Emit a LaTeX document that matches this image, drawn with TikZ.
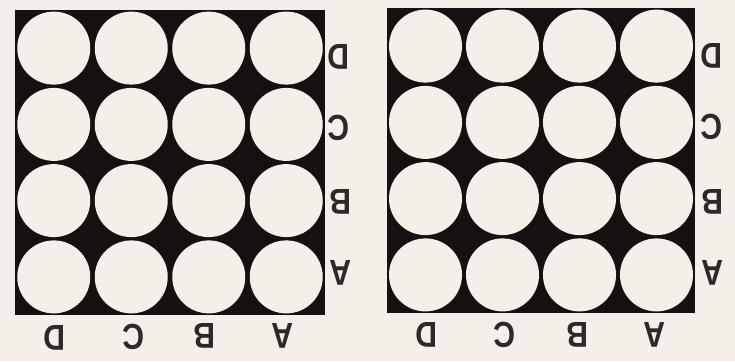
\documentclass[tikz,border=0pt]{standalone}
\usepackage{fontspec}
\setmainfont{Liberation Sans}
\definecolor{paper}{HTML}{F4F0E9}
\definecolor{ink}{HTML}{151111}
\begin{document}
\begin{tikzpicture}[x=1pt,y=-1pt,
  board/.style={fill=ink,draw=none},
  hole/.style={circle,fill=paper,draw=none,minimum size=73pt,inner sep=0pt},
  lab/.style={rotate=180,xscale=0.84,font=\bfseries\fontsize{36}{36}\selectfont,text=ink!90,inner sep=0pt}]
\fill[paper] (0,0) rectangle (735,361);
\useasboundingbox (0,0) rectangle (735,361);
% left board
\node[board,minimum width=310pt,minimum height=305pt,inner sep=0pt,anchor=north west] (L) at (15,10) {};
\foreach \c/\x in {1/53.75,2/131.25,3/208.75,4/286.25}{
  \foreach \r/\y in {1/48.1,2/124.4,3/200.6,4/276.9}{
    \node[hole] (L\r\c) at (\x,\y) {};
  }}
\node[lab] (LrD) at (339,57) {D};
\node[lab] (LrC) at (339,128) {C};
\node[lab] (LrB) at (341,202) {B};
\node[lab] (LrA) at (341,273) {A};
\node[lab] (LbD) at (55,338) {D};
\node[lab] (LbC) at (134,337) {C};
\node[lab] (LbB) at (205,336) {B};
\node[lab] (LbA) at (283,336) {A};
% right board
\node[board,minimum width=308pt,minimum height=305pt,inner sep=0pt,anchor=north west] (R) at (387,8) {};
\foreach \c/\x in {1/425.5,2/502.5,3/579.5,4/656.5}{
  \foreach \r/\y in {1/46.1,2/122.4,3/198.6,4/274.9}{
    \node[hole] (R\r\c) at (\x,\y) {};
  }}
\node[lab] (RrD) at (712,56) {D};
\node[lab] (RrC) at (712,127) {C};
\node[lab] (RrB) at (713,202) {B};
\node[lab] (RrA) at (713,273) {A};
\node[lab] (RbD) at (427,335) {D};
\node[lab] (RbC) at (505,335) {C};
\node[lab] (RbB) at (578,335) {B};
\node[lab] (RbA) at (655,335) {A};
\end{tikzpicture}
\end{document}
